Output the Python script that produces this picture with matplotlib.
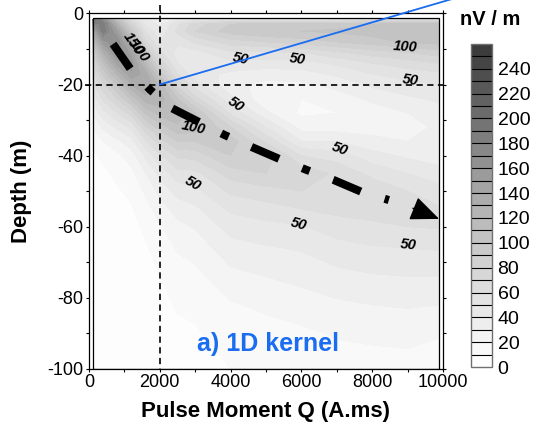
import numpy as np
import matplotlib
matplotlib.use("Agg")
import matplotlib.pyplot as plt
from matplotlib.colors import LinearSegmentedColormap
from matplotlib.patches import Rectangle

plt.rcParams["font.family"] = ["Liberation Sans", "DejaVu Sans"]
plt.rcParams["axes.unicode_minus"] = False
plt.rcParams["lines.scale_dashes"] = False

# pulse moments (A.ms) and depths (m) of the kernel grid
pulse_q = [100, 400, 800, 1200, 1600, 2000, 2500, 3000, 4000, 5000, 6000, 7000, 8000, 9000, 9900]
depth = [-1.3, -3, -5, -8, -11, -14, -17, -20, -24, -28, -32, -36, -40, -45,
         -50, -55, -60, -66, -74, -82, -90, -100]

# kernel amplitude (nV/m), one column per pulse moment, top to bottom in depth
kernel_cols = {
    100:  [210, 165, 135, 108, 90, 76, 64, 54, 42, 31, 20, 12, 8, 5, 4, 3, 2, 2, 1, 1, 1, 0],
    400:  [160, 188, 185, 155, 128, 108, 92, 78, 62, 46, 32, 20, 12, 8, 6, 4, 3, 2, 2, 1, 1, 0],
    800:  [100, 125, 148, 168, 165, 145, 122, 102, 80, 60, 42, 28, 18, 12, 9, 7, 5, 4, 3, 2, 1, 1],
    1200: [60, 78, 96, 122, 146, 155, 148, 130, 102, 75, 52, 36, 25, 17, 12, 9, 7, 5, 4, 3, 2, 1],
    1600: [40, 48, 58, 72, 92, 115, 135, 140, 126, 102, 78, 58, 42, 30, 22, 16, 12, 9, 7, 5, 3, 2],
    2000: [30, 38, 42, 50, 62, 78, 96, 116, 127, 114, 94, 75, 58, 43, 33, 25, 19, 14, 10, 7, 5, 3],
    2500: [35, 58, 62, 52, 46, 50, 60, 76, 100, 117, 108, 90, 72, 56, 44, 34, 27, 21, 15, 11, 8, 5],
    3000: [40, 75, 80, 62, 46, 40, 44, 54, 74, 100, 106, 90, 74, 57, 47, 38, 31, 24, 17, 12, 9, 6],
    4000: [45, 90, 95, 75, 58, 47, 38, 33, 42, 58, 80, 96, 90, 75, 62, 52, 44, 36, 27, 19, 14, 10],
    5000: [45, 95, 100, 80, 58, 45, 35, 27, 22, 32, 50, 68, 87, 80, 66, 56, 47, 39, 30, 22, 16, 12],
    6000: [40, 92, 100, 85, 60, 46, 36, 28, 20, 18, 26, 40, 60, 77, 70, 60, 49, 41, 33, 25, 18, 13],
    7000: [45, 95, 102, 90, 68, 52, 42, 33, 25, 20, 25, 40, 55, 68, 70, 63, 55, 46, 37, 28, 21, 15],
    8000: [50, 100, 105, 95, 75, 60, 50, 42, 32, 25, 26, 33, 44, 57, 67, 64, 58, 49, 39, 30, 22, 16],
    9000: [55, 105, 110, 102, 80, 65, 55, 47, 38, 30, 28, 30, 38, 50, 60, 65, 60, 50, 40, 31, 23, 16],
    9900: [55, 105, 110, 104, 85, 70, 58, 50, 42, 35, 31, 31, 35, 44, 54, 61, 61, 51, 40, 30, 21, 13],
}
levels = list(range(0, 270, 10))
cbar_ticks = list(range(0, 260, 20))

# path of the dash-dot arrow (Q, depth)
arrow_q = [680, 1170, 1730, 2330, 3100, 3830, 4600, 5370, 6140, 6900, 7700, 8470]
arrow_z = [-8.6, -15.6, -21.5, -26.6, -30.5, -34.2, -37.6, -40.9, -44.0, -46.8, -50.2, -52.5]
arrow_tip = (9890, -57.8)
arrow_base = (9150, -54.8)

# selected point and direction of the blue line
pick_q, pick_z = 2000, -20
blue_end = (11500, 7.7)

# contour labels: (Q, depth, text, rotation)
contour_labels = [
    (1250, -8.5, "150", -55), (1400, -10.5, "100", -55),
    (4290, -12.8, "50", -12), (4150, -25.5, "50", -35),
    (2940, -32.0, "100", -12), (2940, -48.0, "50", -30),
    (5900, -12.8, "50", -8), (8930, -9.4, "100", -4),
    (9070, -18.7, "50", -8), (7090, -38.0, "50", -20),
    (5930, -59.2, "50", -15), (9010, -65.0, "50", -6),
]

values = np.array([kernel_cols[q] for q in pulse_q]).T

fig = plt.figure(figsize=(5.36, 4.34), dpi=100)
ax = fig.add_axes([0.166, 0.150, 0.6605, 0.819])

# grey scale
grey_nodes = [(0.0, "#ffffff"), (20 / 260, "#f6f6f6"), (40 / 260, "#ebebeb"),
              (60 / 260, "#e0e0e0"), (80 / 260, "#d4d4d4"), (100 / 260, "#c7c7c7"),
              (120 / 260, "#b8b8b8"), (140 / 260, "#a8a8a8"), (160 / 260, "#969696"),
              (180 / 260, "#848484"), (200 / 260, "#707070"), (220 / 260, "#5d5d5d"),
              (240 / 260, "#4a4a4a"), (1.0, "#383838")]
cmap = LinearSegmentedColormap.from_list("kern", grey_nodes)
cf = ax.contourf(pulse_q, depth, values, levels=levels, cmap=cmap)
ax.add_patch(Rectangle((pulse_q[0], depth[-1]), pulse_q[-1] - pulse_q[0],
                       depth[0] - depth[-1], fill=False, lw=0.9, ec="k", zorder=3))

for q, z, t, r in contour_labels:
    ax.text(q, z, t, rotation=r, ha="center", va="center", fontsize=10.5,
            fontweight="bold", fontstyle="italic", zorder=4)

# crosshair
ax.plot([pick_q, pick_q], [2.5, -100], ls=(0, (4.5, 3.2)), color="k", lw=1.2,
        clip_on=False, zorder=5)
ax.plot([-120, 10000], [pick_z, pick_z], ls=(0, (4.5, 3.2)), color="k", lw=1.2,
        clip_on=False, zorder=5)

ax.plot([pick_q, blue_end[0]], [pick_z, blue_end[1]], color="#1a6cf0", lw=1.3,
        clip_on=False, zorder=6)

ax.plot(arrow_q, arrow_z, color="k", lw=5.8, ls=(0, (21.6, 18, 5.8, 18)),
        solid_capstyle="butt", dash_capstyle="butt", zorder=5)
ax.annotate("", xy=arrow_tip, xytext=arrow_base,
            arrowprops=dict(arrowstyle="-|>,head_length=0.9,head_width=0.38",
                            mutation_scale=20, color="k", lw=1,
                            shrinkA=0, shrinkB=0), zorder=5)

ax.text(5050, -93, "a) 1D kernel", ha="center", va="center", fontsize=18,
        fontweight="bold", color="#1a6cf0", zorder=6)

ax.set_xlim(0, 10000)
ax.set_ylim(-100, 0)
ax.set_xticks(range(0, 10001, 2000))
ax.set_xticks(range(0, 10001, 1000), minor=True)
ax.set_yticks(range(-100, 1, 20))
ax.set_yticks(range(-100, 1, 10), minor=True)
ax.tick_params(which="both", direction="out", length=2.5, width=0.8,
               top=True, right=True, labelsize=13, pad=1.5)
for s in ax.spines.values():
    s.set_linewidth(0.9)

ax.set_xlabel("Pulse Moment Q (A.ms)", fontsize=16, fontweight="bold", labelpad=7)
ax.set_ylabel("Depth (m)", fontsize=16, fontweight="bold", labelpad=11)

cax = fig.add_axes([0.879, 0.154, 0.039, 0.745])
cb = fig.colorbar(cf, cax=cax, ticks=cbar_ticks, drawedges=True)
cb.dividers.set_color("k")
cb.dividers.set_linewidth(0.8)
cb.outline.set_edgecolor("#707070")
cb.outline.set_linewidth(1)
cax.tick_params(length=0, labelsize=14, pad=4)
fig.text(0.914, 0.954, "nV / m", ha="center", va="center", fontsize=14.5,
         fontweight="bold")

fig.savefig("out.png", dpi=100)
